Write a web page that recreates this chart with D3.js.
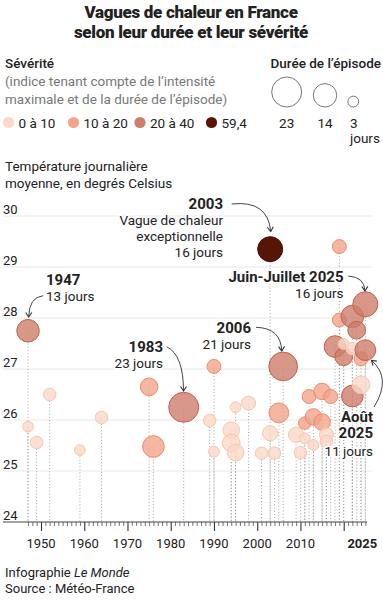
<!DOCTYPE html>
<html>
<head>
<meta charset="utf-8">
<script src="https://cdn.jsdelivr.net/npm/d3@7"></script>
<style>
  body { margin: 0; background: #fff; }
  svg text { font-family: Roboto, "Noto Sans", sans-serif; fill: #222; }
</style>
</head>
<body>
<svg id="chart" width="383" height="602"></svg>
<script>
// heat waves: year, mean daily temperature, duration (days), severity class
var waveYears = [1947, 1947, 1949, 1952, 1959, 1964, 1975, 1976, 1983, 1989, 1990, 1990,
  1994, 1994, 1995, 1995, 1998, 2001, 2003, 2003, 2004, 2005, 2006, 2009, 2010, 2011,
  2011, 2012, 2013, 2013, 2015, 2015, 2016, 2016, 2017, 2018, 2019, 2019, 2020, 2020,
  2022, 2022, 2022, 2023, 2024, 2024, 2025, 2025];
var waveTemps = [27.75, 25.87, 25.56, 26.50, 25.41, 26.05, 26.65, 25.48, 26.25, 25.99, 27.05, 25.38,
  25.80, 25.55, 26.25, 25.36, 26.33, 25.35, 29.35, 25.74, 25.35, 26.14, 27.05, 25.71, 25.36, 25.94,
  25.64, 26.46, 26.06, 25.51, 26.56, 25.96, 25.71, 25.58, 26.46, 27.44, 29.40, 27.96, 27.24, 27.49,
  27.40, 28.03, 26.47, 27.76, 27.20, 26.69, 28.27, 27.37];
var waveDays = [13, 3, 4, 4, 3, 4, 8, 12, 23, 4, 5, 3,
  7, 8, 3, 7, 5, 4, 16, 6, 4, 10, 21, 6, 4, 4,
  3, 5, 7, 3, 7, 7, 5, 4, 5, 12, 5, 5, 8, 3,
  4, 13, 12, 8, 5, 8, 16, 11];
var waveClass = [2, 0, 0, 0, 0, 0, 1, 1, 2, 0, 1, 0,
  0, 0, 0, 0, 0, 0, 3, 0, 0, 1, 2, 0, 0, 1,
  0, 1, 1, 0, 1, 1, 0, 0, 1, 2, 1, 1, 2, 0,
  0, 2, 2, 2, 1, 0, 2, 2];

var severityLabels = ["0 à 10", "10 à 20", "20 à 40", "59,4"];
var sizeLegendDays = [23, 14, 3];
var yTicks = [24, 25, 26, 27, 28, 29, 30];
var xTickYears = [1950, 1960, 1970, 1980, 1990, 2000, 2010, 2025];

var fills = ["#fbd8c7", "#f3a48b", "#cd7d6c", "#581404"];
var strokes = ["#f7c6b0", "#ec8c70", "#c4604c", "#4a0f02"];

var svg = d3.select("#chart");

var x = d3.scaleLinear().domain([1950, 2020]).range([41, 343.7]);
var y = d3.scaleLinear().domain([24, 30]).range([522, 216]);
var r = d3.scaleSqrt().domain([0, 23]).range([0, 15]);

var waves = waveYears.map(function(yr, i) {
  return {year: yr, temp: waveTemps[i], days: waveDays[i], cls: waveClass[i]};
});

// title
svg.append("text").attr("x", 191).attr("y", 18).attr("text-anchor", "middle")
  .style("font-size", "17px").style("font-weight", 900).style("letter-spacing", "-0.3px")
  .text("Vagues de chaleur en France");
svg.append("text").attr("x", 191).attr("y", 38).attr("text-anchor", "middle")
  .style("font-size", "17px").style("font-weight", 900).style("letter-spacing", "-0.3px")
  .text("selon leur durée et leur sévérité");

// severity legend
svg.append("text").attr("x", 5).attr("y", 68).style("font-size", "13.5px").style("font-weight", 500)
  .text("Sévérité");
svg.append("text").attr("x", 5).attr("y", 86).style("font-size", "13.5px").style("fill", "#777")
  .text("(indice tenant compte de l’intensité");
svg.append("text").attr("x", 5).attr("y", 104).style("font-size", "13.5px").style("fill", "#777")
  .text("maximale et de la durée de l’épisode)");

var sevX = [8.5, 73.5, 140, 211.5];
var sevItem = svg.selectAll("g.sev").data(severityLabels).enter().append("g").attr("class", "sev");
sevItem.append("circle")
  .attr("cx", function(d, i) { return sevX[i]; }).attr("cy", 122.5).attr("r", 5.6)
  .attr("fill", function(d, i) { return fills[i]; });
sevItem.append("text")
  .attr("x", function(d, i) { return sevX[i] + 10; }).attr("y", 127.5)
  .style("font-size", "13.5px").text(function(d) { return d; });

// size legend
svg.append("text").attr("x", 381).attr("y", 68).attr("text-anchor", "end")
  .style("font-size", "13.5px").style("font-weight", 500).text("Durée de l’épisode");
var sizeX = [286.7, 325, 353.3];
svg.selectAll("circle.size").data(sizeLegendDays).enter().append("circle").attr("class", "size")
  .attr("cx", function(d, i) { return sizeX[i]; })
  .attr("cy", function(d) { return 107 - r(d); })
  .attr("r", function(d) { return r(d); })
  .attr("fill", "none").attr("stroke", "#666").attr("stroke-width", 0.9);
svg.selectAll("text.size").data(sizeLegendDays).enter().append("text").attr("class", "size")
  .attr("x", function(d, i) { return i < 2 ? sizeX[i] : 350; })
  .attr("y", 127.5)
  .attr("text-anchor", function(d, i) { return i < 2 ? "middle" : "start"; })
  .style("font-size", "13.5px").text(function(d) { return d; });
svg.append("text").attr("x", 350).attr("y", 142.5).style("font-size", "13.5px").text("jours");

// y axis title
svg.append("text").attr("x", 5).attr("y", 171).style("font-size", "13.5px").text("Température journalière");
svg.append("text").attr("x", 5).attr("y", 188).style("font-size", "13.5px").text("moyenne, en degrés Celsius");

// gridlines + y labels
svg.selectAll("line.grid").data(yTicks.slice(1)).enter().append("line").attr("class", "grid")
  .attr("x1", 3).attr("x2", 372)
  .attr("y1", function(d) { return y(d); }).attr("y2", function(d) { return y(d); })
  .attr("stroke", "#e8e8e8").attr("stroke-width", 1);
svg.selectAll("text.ylab").data(yTicks).enter().append("text").attr("class", "ylab")
  .attr("x", 3).attr("y", function(d) { return y(d) - 2; })
  .style("font-size", "13px").text(function(d) { return d; });

// dotted drop lines
svg.selectAll("line.drop").data(waves).enter().append("line").attr("class", "drop")
  .attr("x1", function(d) { return x(d.year); }).attr("x2", function(d) { return x(d.year); })
  .attr("y1", function(d) { return y(d.temp); }).attr("y2", y(24))
  .attr("stroke", "#999").attr("stroke-width", 0.9).attr("stroke-dasharray", "1,2.2");

// x axis
var minorYears = d3.range(1947, 2026);
var axis = d3.axisBottom(x).tickValues(minorYears).tickSize(4).tickFormat("");
var gx = svg.append("g").attr("transform", "translate(0," + y(24) + ")").call(axis);
gx.select(".domain").remove();
gx.selectAll(".tick line").attr("stroke", "#555").attr("stroke-width", 0.8)
  .filter(function(d) { return d % 10 === 0; }).attr("y2", 9).attr("stroke", "#333").attr("stroke-width", 1.1);
svg.append("line").attr("x1", 3).attr("x2", 367).attr("y1", y(24)).attr("y2", y(24))
  .attr("stroke", "#444").attr("stroke-width", 1.2);
svg.selectAll("text.xlab").data(xTickYears).enter().append("text").attr("class", "xlab")
  .attr("x", function(d) { return d === 2025 ? x(d) - 3 : x(d); }).attr("y", 548)
  .attr("text-anchor", "middle")
  .style("font-size", "13px").style("font-weight", function(d) { return d === 2025 ? 700 : 400; })
  .text(function(d) { return d; });

// bubbles
svg.selectAll("circle.wave").data(waves).enter().append("circle").attr("class", "wave")
  .attr("cx", function(d) { return x(d.year); })
  .attr("cy", function(d) { return y(d.temp); })
  .attr("r", function(d) { return r(d.days); })
  .attr("fill", function(d) { return fills[d.cls]; })
  .attr("fill-opacity", function(d) { return d.cls === 3 ? 1 : 0.8; })
  .attr("stroke", function(d) { return strokes[d.cls]; })
  .attr("stroke-width", 1);

// annotations
svg.append("defs").append("marker").attr("id", "arr")
  .attr("viewBox", "-6 -4 7 8").attr("refX", 0).attr("refY", 0)
  .attr("markerWidth", 7).attr("markerHeight", 8).attr("markerUnits", "userSpaceOnUse")
  .attr("orient", "auto")
  .append("path").attr("d", "M-4.5,-3 L0,0 L-4.5,3").attr("fill", "none")
  .attr("stroke", "#333").attr("stroke-width", 1.1);

var arrows = [
  "M231.7,204 Q268,200 270.7,231.5",
  "M43.3,295.7 Q29,297 28.7,317",
  "M166.7,346.7 Q183.5,355 183.5,391",
  "M256,327.3 Q281,328 281.7,351",
  "M348.3,276 Q364.5,277 365,291",
  "M374,407 Q392,378 371.5,360.5"
];
svg.selectAll("path.arrow").data(arrows).enter().append("path").attr("class", "arrow")
  .attr("d", function(d) { return d; }).attr("fill", "none")
  .attr("stroke", "#444").attr("stroke-width", 1).attr("marker-end", "url(#arr)");

function note(xp, yp, anchor, lines) {
  var t = svg.append("g");
  lines.forEach(function(l, i) {
    t.append("text").attr("x", xp).attr("y", yp + l.dy).attr("text-anchor", anchor)
      .style("font-size", l.bold ? "15px" : "13.5px").style("font-weight", l.bold ? 700 : 400)
      .style("stroke", "#fff").style("stroke-width", 3).style("paint-order", "stroke")
      .style("stroke-linejoin", "round")
      .text(l.t);
  });
}
note(223, 209, "end", [{t: "2003", bold: true, dy: 0}, {t: "Vague de chaleur", dy: 16},
  {t: "exceptionnelle", dy: 31.5}, {t: "16 jours", dy: 47.5}]);
note(46, 284.5, "start", [{t: "1947", bold: true, dy: 0}, {t: "13 jours", dy: 16}]);
note(163, 351.5, "end", [{t: "1983", bold: true, dy: 0}, {t: "23 jours", dy: 16.5}]);
note(251, 332.5, "end", [{t: "2006", bold: true, dy: 0}, {t: "21 jours", dy: 16.5}]);
note(343.5, 281.5, "end", [{t: "Juin-Juillet 2025", bold: true, dy: 0}, {t: "16 jours", dy: 16.5}]);
note(373, 421.5, "end", [{t: "Août", bold: true, dy: 0}, {t: "2025", bold: true, dy: 16.5},
  {t: "11 jours", dy: 34.5}]);

// footer
var foot = svg.append("text").attr("x", 5).attr("y", 577).style("font-size", "13px");
foot.append("tspan").text("Infographie ");
foot.append("tspan").style("font-style", "italic").text("Le Monde");
svg.append("text").attr("x", 5).attr("y", 593).style("font-size", "13px").text("Source : Météo-France");
</script>
</body>
</html>
